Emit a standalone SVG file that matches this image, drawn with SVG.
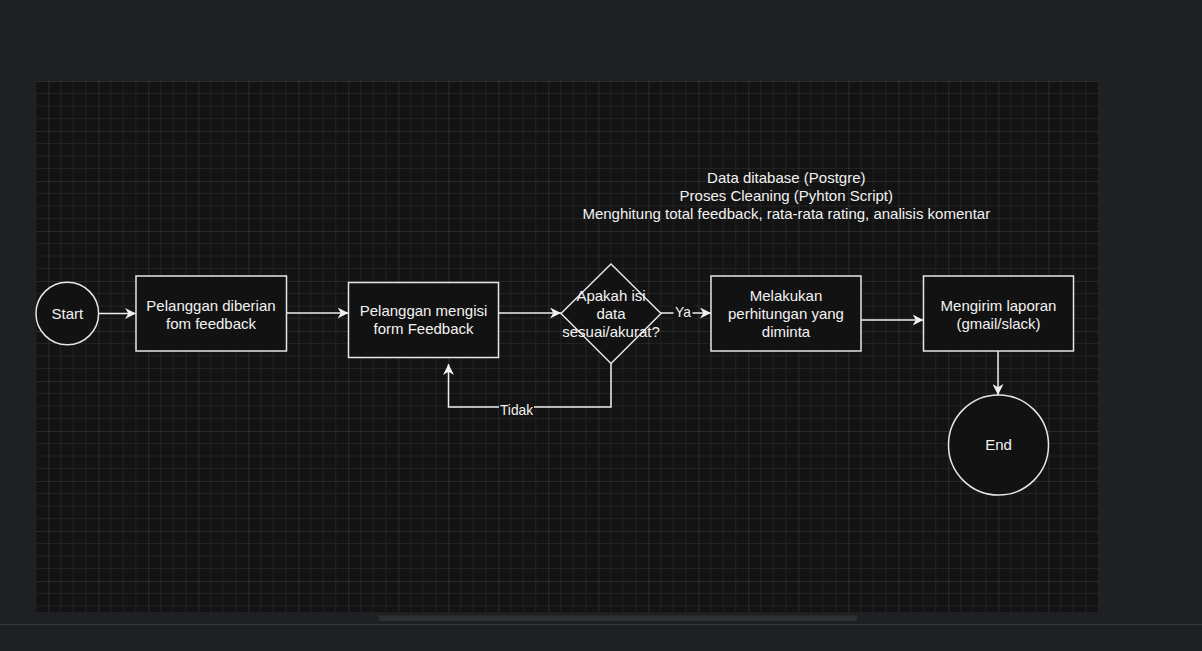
<svg xmlns="http://www.w3.org/2000/svg" width="1202" height="651" viewBox="0 0 1202 651">
<style>
.node{fill:#121212;stroke:#e6e6e6;stroke-width:1.5}
.edge{fill:none;stroke:#eeeeee;stroke-width:1.5}
text{font-family:"Liberation Sans",Arial,sans-serif;fill:#f2f2f2;text-anchor:middle}
.t{font-size:15px}
.lbl{font-size:13.75px}
</style>
<defs>
<pattern id="grid" patternUnits="userSpaceOnUse" x="48.3" y="131" width="50" height="50">
<path d="M12.5 0V50M25 0V50M37.5 0V50M0 12.5H50M0 25H50M0 37.5H50" stroke="#222222" stroke-width="1" fill="none"/>
<path d="M0 0V50M0 0H50" stroke="#424242" stroke-width="1" fill="none"/>
</pattern>
<marker id="arr" viewBox="0 0 10 10" refX="10" refY="5" markerWidth="11" markerHeight="11" markerUnits="userSpaceOnUse" orient="auto">
<path d="M0,0 L10,5 L0,10 L3,5 z" fill="#f0f0f0"/>
</marker>
</defs>
<rect x="0" y="0" width="1202" height="651" fill="#1f2023"/>
<rect x="36" y="81" width="1063" height="531" fill="#131313"/>
<rect x="36" y="81" width="1063" height="531" fill="url(#grid)"/>
<line x1="0" y1="624.5" x2="1202" y2="624.5" stroke="#38393c" stroke-width="1"/>
<rect x="379" y="615.5" width="478" height="5.5" fill="#2f3033"/>

<g id="connectors">
<line class="edge" x1="98.7" y1="313.5" x2="136" y2="313.5" marker-end="url(#arr)"/>
<line class="edge" x1="286.5" y1="313" x2="348.5" y2="313" marker-end="url(#arr)"/>
<line class="edge" x1="498.5" y1="313" x2="561" y2="313" marker-end="url(#arr)"/>
<line class="edge" x1="661" y1="313" x2="711" y2="313" marker-end="url(#arr)"/>
<rect x="673.5" y="305" width="19" height="15" fill="#131313"/>
<text class="lbl" x="683" y="317">Ya</text>
<line class="edge" x1="861" y1="320" x2="923.5" y2="320" marker-end="url(#arr)"/>
<line class="edge" x1="998" y1="345" x2="998" y2="395" marker-end="url(#arr)"/>
<polyline class="edge" points="611,363.5 611,407 448.5,407 448.5,364" marker-end="url(#arr)"/>
<rect x="499" y="400" width="35" height="16" fill="#131313"/>
<text class="lbl" x="516.5" y="415">Tidak</text>
</g>

<g id="start">
<circle class="node" cx="67.3" cy="313.5" r="31.3"/>
<text class="t" x="67.3" y="319">Start</text>
</g>
<g id="box1">
<rect class="node" x="136" y="276" width="150.5" height="75"/>
<text class="t" x="211" y="310.5">Pelanggan diberian</text>
<text class="t" x="211" y="328.5">fom feedback</text>
</g>
<g id="box2">
<rect class="node" x="348.5" y="282.5" width="150" height="75"/>
<text class="t" x="423.5" y="316">Pelanggan mengisi</text>
<text class="t" x="423.5" y="334">form Feedback</text>
</g>
<g id="decision">
<polygon class="node" points="611,264 661,313.5 611,363.5 561,313.5"/>
<text class="t" x="611" y="301">Apakah isi</text>
<text class="t" x="611" y="319">data</text>
<text class="t" x="611" y="337">sesuai/akurat?</text>
</g>
<g id="box3">
<rect class="node" x="711" y="276" width="150" height="75"/>
<text class="t" x="786" y="301">Melakukan</text>
<text class="t" x="786" y="319">perhitungan yang</text>
<text class="t" x="786" y="337">diminta</text>
</g>
<g id="box4">
<rect class="node" x="923.5" y="276" width="150" height="75"/>
<text class="t" x="998.5" y="310.5">Mengirim laporan</text>
<text class="t" x="998.5" y="328.5">(gmail/slack)</text>
</g>
<g id="end">
<circle class="node" cx="998.5" cy="445" r="50"/>
<text class="t" x="998.5" y="450">End</text>
</g>
<g id="note">
<text class="t" x="786.3" y="182.5">Data ditabase (Postgre)</text>
<text class="t" x="786.3" y="200.5">Proses Cleaning (Pyhton Script)</text>
<text class="t" x="786.3" y="218.5">Menghitung total feedback, rata-rata rating, analisis komentar</text>
</g>
</svg>
